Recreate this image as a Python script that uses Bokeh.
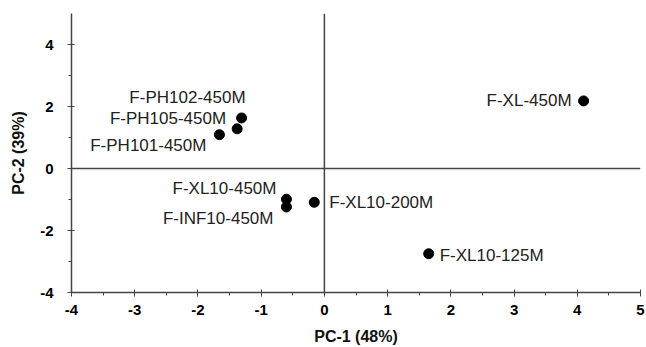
from bokeh.plotting import figure
from bokeh.models import ColumnDataSource, FixedTicker, Span, CustomJSTickFormatter
from bokeh.core.properties import value
from bokeh.embed import file_html
from bokeh.resources import INLINE

# Data
names = ["F-XL-450M", "F-PH102-450M", "F-PH105-450M", "F-PH101-450M",
         "F-XL10-450M", "F-INF10-450M", "F-XL10-200M", "F-XL10-125M"]
pc1 = [4.10, -1.31, -1.38, -1.66, -0.60, -0.60, -0.16, 1.65]
pc2 = [2.18, 1.63, 1.28, 1.09, -0.99, -1.24, -1.09, -2.75]
x_ticks = [-4, -3, -2, -1, 0, 1, 2, 3, 4, 5]
y_ticks = [-4, -2, 0, 2, 4]

# Label placement (style, screen px)
lab_dx = [-12, 4, -11, -13, -10, -13, 15, 11]
lab_dy = [0, -20, -10, 11, -11, 12, 0, 2]
lab_align = ["right", "right", "right", "right", "right", "right", "left", "left"]

src = ColumnDataSource(dict(x=pc1, y=pc2, name=names, dx=lab_dx, dy=lab_dy, al=lab_align))

p = figure(width=646, height=347, x_range=(-4, 5), y_range=(-4, 5),
           output_backend="svg", toolbar_location=None,
           min_border_left=71, min_border_right=6, min_border_top=13, min_border_bottom=53)
p.outline_line_color = None
p.xgrid.visible = False
p.ygrid.visible = False
p.background_fill_color = "white"
p.border_fill_color = "white"

axis_col = "#444444"
p.add_layout(Span(location=0, dimension="height", line_color=axis_col, line_width=1.5))
p.add_layout(Span(location=0, dimension="width", line_color=axis_col, line_width=1.5))

p.scatter("x", "y", source=src, size=10, color="black")
p.text("x", "y", text="name", source=src, x_offset="dx", y_offset="dy", text_align="al",
       text_baseline="middle", text_font=value("Liberation Sans"), text_font_size="17px",
       text_color="#222222")

fmt = CustomJSTickFormatter(code="return tick.toFixed(0);")
minor_x = [v + 0.5 for v in x_ticks[:-1]]
minor_y = [v + 1 for v in y_ticks]
p.xaxis.ticker = FixedTicker(ticks=x_ticks, minor_ticks=minor_x)
p.yaxis.ticker = FixedTicker(ticks=y_ticks, minor_ticks=minor_y[:-1])
for ax in (p.xaxis[0], p.yaxis[0]):
    ax.formatter = fmt
    ax.axis_line_color = axis_col
    ax.axis_line_width = 1.5
    ax.major_tick_line_color = axis_col
    ax.minor_tick_line_color = axis_col
    ax.major_tick_in = 3
    ax.major_tick_out = 4
    ax.minor_tick_in = 0
    ax.minor_tick_out = 3
    ax.major_label_text_font = "Liberation Sans"
    ax.major_label_text_font_style = "bold"
    ax.major_label_text_font_size = "15px"
    ax.major_label_text_color = "black"
    ax.axis_label_text_font = "Liberation Sans"
    ax.axis_label_text_font_style = "bold"
    ax.axis_label_text_font_size = "16px"
    ax.axis_label_text_color = "#111111"

p.xaxis.axis_label = "PC-1 (48%)"
p.yaxis.axis_label = "PC-2 (39%)"
p.xaxis.major_label_standoff = 8
p.xaxis.axis_label_standoff = 10
p.yaxis.major_label_standoff = 14
p.yaxis.axis_label_standoff = 10

open("out.html", "w").write(file_html(p, INLINE))
